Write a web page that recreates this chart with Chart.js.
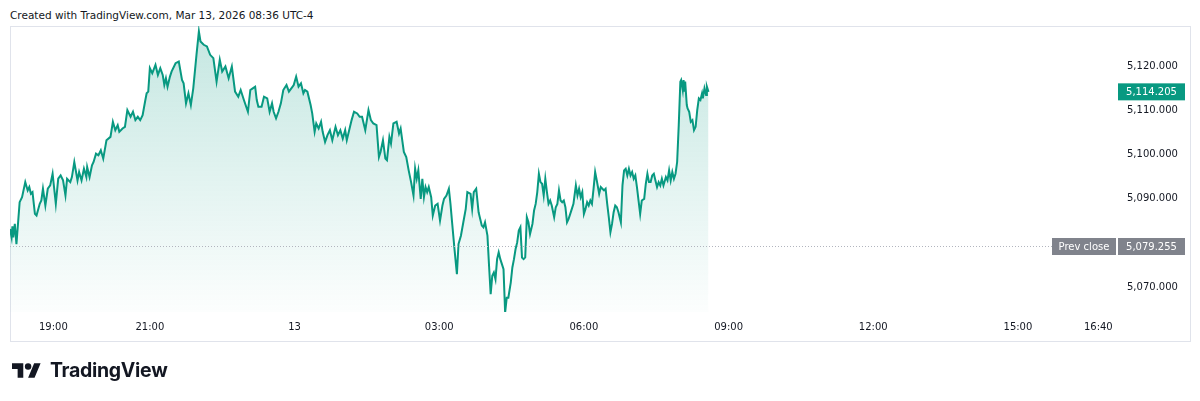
<!DOCTYPE html>
<html>
<head>
<meta charset="utf-8">
<title>Mar 13 intraday</title>
<script src="https://cdn.jsdelivr.net/npm/chart.js@4.4.1/dist/chart.umd.min.js"></script>
<style>
  body { margin: 0; background: #ffffff; width: 1200px; height: 401px; overflow: hidden; position: relative; }
  .c-header { position: absolute; left: 10px; top: 9px; font: 10.5px "DejaVu Sans", sans-serif; line-height: 12px; color: #131722; white-space: nowrap; }
  .c-chart { position: absolute; left: 0; top: 0; }
  .c-logo { position: absolute; left: 12px; top: 363px; width: 29px; height: 15px; }
  .c-brand { position: absolute; left: 50px; top: 360px; font: 700 19.5px Inter, sans-serif; line-height: 20px; color: #131722; letter-spacing: -0.3px; }
</style>
</head>
<body>
<div class="c-header">Created with TradingView.com, Mar 13, 2026 08:36 UTC-4</div>
<canvas class="c-chart" id="myChart" width="1200" height="401"></canvas>
<svg class="c-logo" viewBox="0 4 36 18"><path fill="#131722" d="M14 22H7V11H0V4h14v18zM28 22h-8l7.5-18h8L28 22z"/><circle fill="#131722" cx="20" cy="8" r="4"/></svg>
<div class="c-brand">TradingView</div>

<script>
// minutes after the 18:00 session open (Mar 12)
const sessionMinutes = [
  6, 8, 9, 10, 12, 14, 18, 21, 25, 28, 30, 32, 34, 37, 39, 43, 45, 47, 50, 53,
  56, 59, 63, 66, 69, 72, 75, 77, 81, 83, 86, 90, 92, 95, 98, 101, 102, 105, 108, 110,
  113, 116, 119, 122, 126, 131, 134, 137, 140, 142, 146, 149, 152, 156, 159, 162, 165, 168, 171, 174,
  176, 178, 180, 183, 187, 190, 193, 196, 198, 200, 202, 205, 207, 212, 216, 220, 222, 225, 228, 231,
  234, 238, 241, 243, 247, 251, 255, 259, 263, 267, 270, 274, 278, 282, 286, 290, 293, 297, 302, 305,
  308, 311, 313, 315, 319, 322, 326, 329, 332, 334, 337, 340, 343, 346, 350, 353, 356, 359, 362, 365,
  368, 371, 373, 376, 380, 382, 385, 387, 390, 393, 395, 398, 401, 404, 407, 411, 414, 417, 420, 423,
  425, 429, 431, 434, 438, 441, 444, 448, 452, 455, 458, 462, 465, 467, 470, 473, 475, 478, 480, 483,
  487, 490, 492, 496, 499, 502, 505, 508, 510, 512, 514, 517, 519, 521, 523, 525, 527, 530, 532, 535,
  538, 541, 544, 546, 549, 552, 554, 556, 559, 562, 564, 567, 570, 573, 575, 579, 581, 583, 586, 589,
  591, 593, 595, 597, 600, 602, 604, 606, 608, 610, 612, 614, 616, 618, 620, 622, 624, 626, 629, 631,
  633, 635, 637, 639, 641, 643, 645, 647, 649, 651, 653, 656, 658, 660, 662, 664, 666, 668, 670, 672,
  674, 676, 678, 680, 683, 685, 687, 689, 691, 693, 695, 697, 699, 701, 703, 705, 707, 710, 712, 714,
  716, 718, 720, 722, 724, 726, 728, 730, 732, 734, 736, 739, 741, 743, 745, 747, 749, 751, 753, 755,
  757, 759, 761, 763, 766, 768, 770, 772, 774, 776, 778, 780, 782, 784, 786, 788, 790, 792, 795, 797,
  799, 801, 803, 805, 807, 809, 811, 813, 815, 817, 819, 822, 824, 826, 828, 830, 832, 834, 836, 838,
  840, 841, 843, 844, 845, 846, 848, 849, 851, 853, 855, 857, 859, 861, 863, 865, 867, 868, 870, 872,
  873, 875
];

const prices = [
  5083.19, 5081.29, 5083.79, 5081.29, 5084.32, 5079.77, 5089.25, 5090.38, 5093.79, 5091.90,
  5092.66, 5091.14, 5091.52, 5086.60, 5086.22, 5088.87, 5089.63, 5092.28, 5088.49, 5092.28,
  5093.03, 5095.69, 5088.87, 5094.55, 5095.31, 5094.17, 5090.76, 5094.55, 5093.79, 5094.93,
  5098.34, 5094.17, 5096.06, 5094.17, 5096.82, 5094.93, 5097.20, 5094.93, 5097.58, 5098.34,
  5100.23, 5099.85, 5100.99, 5099.09, 5103.26, 5104.02, 5107.43, 5105.53, 5106.67, 5105.16,
  5105.91, 5106.29, 5110.08, 5108.56, 5109.70, 5107.81, 5108.56, 5107.81, 5108.94, 5111.97,
  5113.87, 5114.25, 5119.55, 5118.41, 5120.31, 5118.03, 5119.55, 5118.03, 5115.76, 5117.28,
  5115.38, 5117.66, 5118.79, 5120.68, 5121.06, 5116.90, 5116.14, 5111.60, 5113.87, 5111.22,
  5115.00, 5122.58, 5127.88, 5125.61, 5124.85, 5124.47, 5122.58, 5121.82, 5116.52, 5121.44,
  5118.79, 5119.93, 5117.28, 5119.93, 5114.25, 5113.11, 5114.62, 5112.35, 5109.70, 5114.62,
  5115.00, 5115.38, 5112.35, 5110.84, 5110.84, 5113.11, 5112.73, 5109.70, 5111.60, 5109.70,
  5108.19, 5109.70, 5111.60, 5114.62, 5115.76, 5114.25, 5115.00, 5115.76, 5117.66, 5115.38,
  5116.14, 5113.87, 5114.62, 5114.25, 5111.22, 5109.32, 5105.16, 5107.05, 5105.91, 5107.43,
  5105.16, 5102.88, 5104.40, 5105.53, 5103.26, 5106.29, 5104.40, 5105.53, 5103.64, 5105.53,
  5103.26, 5106.29, 5107.81, 5109.70, 5109.32, 5108.56, 5108.56, 5105.53, 5110.08, 5107.81,
  5107.05, 5106.67, 5099.47, 5100.61, 5103.26, 5099.09, 5098.72, 5104.02, 5102.50, 5107.05,
  5107.43, 5104.78, 5105.91, 5100.61, 5099.47, 5096.44, 5093.79, 5090.76, 5096.82, 5094.55,
  5096.44, 5090.00, 5094.55, 5090.38, 5092.66, 5091.52, 5092.66, 5090.38, 5086.22, 5088.49,
  5088.87, 5085.08, 5088.49, 5090.00, 5090.76, 5092.28, 5088.87, 5084.70, 5078.64, 5072.96,
  5079.77, 5081.67, 5084.70, 5087.73, 5091.52, 5091.14, 5087.73, 5091.52, 5092.28, 5086.97,
  5085.46, 5083.94, 5083.56, 5084.70, 5081.67, 5074.85, 5068.41, 5072.58, 5073.33, 5071.82,
  5076.36, 5077.88, 5076.36, 5075.23, 5074.09, 5064.24, 5067.65, 5067.65, 5071.06, 5074.47,
  5076.36, 5078.64, 5080.15, 5082.80, 5083.56, 5076.74, 5076.36, 5076.74, 5085.83, 5084.70,
  5082.05, 5084.32, 5087.35, 5088.86, 5091.52, 5095.68, 5093.79, 5093.41, 5090.76, 5094.55,
  5091.52, 5088.86, 5089.62, 5088.49, 5085.83, 5088.11, 5088.86, 5091.90, 5089.62, 5089.24,
  5089.62, 5088.11, 5084.70, 5085.46, 5086.59, 5087.73, 5088.86, 5093.03, 5090.76, 5092.27,
  5090.38, 5091.52, 5086.59, 5087.73, 5089.24, 5088.49, 5089.62, 5088.86, 5092.27, 5096.06,
  5094.17, 5091.14, 5092.65, 5092.27, 5091.90, 5092.27, 5088.86, 5085.83, 5082.43, 5084.32,
  5086.97, 5088.49, 5088.11, 5086.97, 5084.70, 5093.03, 5096.44, 5096.82, 5095.30, 5096.82,
  5095.30, 5096.06, 5094.55, 5095.30, 5092.65, 5089.62, 5086.59, 5089.62, 5090.00, 5093.41,
  5095.68, 5093.79, 5093.79, 5095.30, 5095.68, 5094.17, 5092.65, 5093.79, 5093.03, 5094.55,
  5093.03, 5094.93, 5094.17, 5096.44, 5094.17, 5096.06, 5094.55, 5095.68, 5098.33, 5106.67,
  5116.51, 5116.89, 5114.62, 5116.89, 5114.24, 5116.51, 5111.21, 5110.45, 5109.70, 5107.42,
  5107.80, 5105.53, 5106.29, 5110.08, 5112.73, 5112.35, 5113.86, 5112.73, 5115.00, 5113.48,
  5115.38, 5114.205
];

// time axis: tick positions (minutes after 18:00) and their labels
const tickMinutes = [60, 180, 360, 540, 720, 900, 1080, 1260, 1360];
const tickLabels = ["19:00", "21:00", "13", "03:00", "06:00", "09:00", "12:00", "15:00", "16:40"];

// price axis
const priceTicks = [5070, 5090, 5100, 5110, 5120];
const prevClose = 5079.255;
const lastPrice = 5114.205;

const green = "#089981";
const axisFont = { family: "DejaVu Sans", size: 10 };

const fmtPrice = function (v) {
  return v.toLocaleString("en-US", { minimumFractionDigits: 3, maximumFractionDigits: 3 });
};

const drawTag = function (c, x, y, w, h, bg, text) {
  c.fillStyle = bg;
  c.fillRect(x, y, w, h);
  c.fillStyle = "#ffffff";
  c.font = '10px "DejaVu Sans"';
  c.textAlign = "center";
  c.textBaseline = "middle";
  c.fillText(text, x + w / 2, y + h / 2 + 0.5);
};

// panel border + prev close line + price tags
const tvDecor = {
  id: "tvDecor",
  beforeDraw(chart) {
    const c = chart.ctx;
    c.save();
    c.strokeStyle = "#e0e3eb";
    c.lineWidth = 1;
    c.strokeRect(10.5, 26.5, 1180, 315);
    c.restore();
  },
  afterDatasetsDraw(chart) {
    const c = chart.ctx;
    const area = chart.chartArea;
    const y = chart.scales.y;
    const yPrev = Math.round(y.getPixelForValue(prevClose)) + 0.5;
    c.save();
    c.strokeStyle = "#b2b5be";
    c.lineWidth = 1;
    c.setLineDash([1, 2]);
    c.beginPath();
    c.moveTo(area.left, yPrev);
    c.lineTo(1052, yPrev);
    c.stroke();
    c.setLineDash([]);
    drawTag(c, 1052, yPrev - 8.5, 64, 17, "#80838c", "Prev close");
    drawTag(c, 1118, yPrev - 8.5, 67, 17, "#80838c", fmtPrice(prevClose));
    const yLast = y.getPixelForValue(lastPrice);
    drawTag(c, 1118, yLast - 8.5, 67, 17, green, fmtPrice(lastPrice));
    c.restore();
  }
};

const makeChart = function () {
  const ctx = document.getElementById("myChart").getContext("2d");
  const points = sessionMinutes.map(function (m, i) {
    return { x: m, y: prices[i] };
  });

  const myChart = new Chart(ctx, {
    type: "line",
    data: {
      datasets: [{
        data: points,
        borderColor: green,
        borderWidth: 2,
        pointRadius: 0,
        tension: 0,
        fill: "start",
        backgroundColor: function (context) {
          const area = context.chart.chartArea;
          if (!area) return "rgba(8,153,129,0.1)";
          const g = context.chart.ctx.createLinearGradient(0, area.top, 0, area.bottom);
          g.addColorStop(0, "rgba(8,153,129,0.24)");
          g.addColorStop(1, "rgba(8,153,129,0.01)");
          return g;
        }
      }]
    },
    options: {
      responsive: false,
      animation: false,
      devicePixelRatio: 1,
      layout: { padding: { left: 10, top: 26, right: 10, bottom: 60 } },
      plugins: { legend: { display: false }, tooltip: { enabled: false } },
      scales: {
        x: {
          type: "linear",
          min: 6,
          max: 1382,
          grid: { display: false, drawTicks: false },
          border: { display: false },
          afterBuildTicks: function (scale) {
            scale.ticks = tickMinutes.map(function (v) { return { value: v }; });
          },
          afterFit: function (scale) { scale.height = 29; },
          ticks: {
            autoSkip: false,
            maxRotation: 0,
            padding: 9,
            color: "#131722",
            font: axisFont,
            callback: function (value) {
              return tickLabels[tickMinutes.indexOf(value)];
            }
          }
        },
        y: {
          position: "right",
          min: 5064.4,
          max: 5129.1,
          grid: { display: false, drawTicks: false },
          border: { display: false },
          afterBuildTicks: function (scale) {
            scale.ticks = priceTicks.map(function (v) { return { value: v }; });
          },
          afterFit: function (scale) { scale.width = 74; },
          ticks: {
            padding: 11,
            color: "#131722",
            font: axisFont,
            callback: function (value) { return fmtPrice(value); }
          }
        }
      }
    },
    plugins: [tvDecor]
  });
  return myChart;
};

document.addEventListener("DOMContentLoaded", function () {
  console.info("DOM geladen");
  makeChart();
});
</script>
</body>
</html>
